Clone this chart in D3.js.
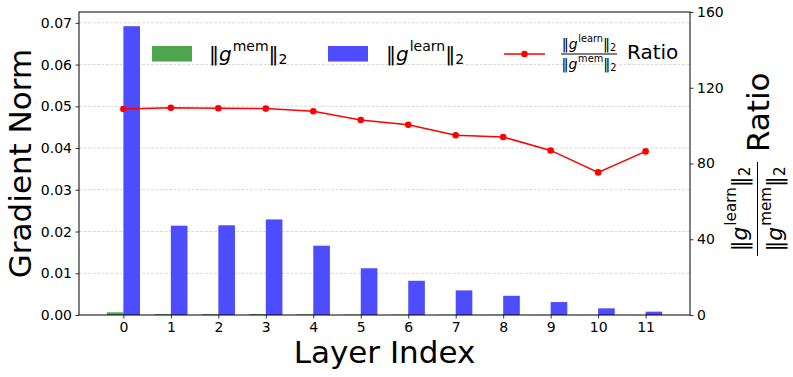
<!DOCTYPE html>
<html>
<head>
<meta charset="utf-8">
<script src="https://cdn.jsdelivr.net/npm/d3@7"></script>
<style>
  body { margin: 0; background: #fff; }
  svg text { font-family: "DejaVu Sans", sans-serif; fill: #000; }
</style>
</head>
<body>
<div id="vis"></div>
<script>
// values
var layers = [0, 1, 2, 3, 4, 5, 6, 7, 8, 9, 10, 11];
var memNorm = [0.00064, 0.000196, 0.000197, 0.00021, 0.000155, 0.000109, 0.000081, 0.000062, 0.000049, 0.000036, 0.000021, 0.0000095];
var learnNorm = [0.0692, 0.0214, 0.0215, 0.0229, 0.0166, 0.0112, 0.0082, 0.0059, 0.0046, 0.0031, 0.0016, 0.0008];
var ratio = [108.8, 109.4, 109.2, 109.0, 107.6, 103.0, 100.5, 94.9, 94.0, 86.9, 75.3, 86.4];
var leftTicks = [0, 0.01, 0.02, 0.03, 0.04, 0.05, 0.06, 0.07];
var rightTicks = [0, 40, 80, 120, 160];

var width = 793, height = 377;
var plot = {left: 79, right: 690, top: 12, bottom: 315};
var barW = 0.35;

var svg = d3.select("#vis").append("svg")
  .attr("width", width)
  .attr("height", height);

var x = d3.scaleLinear()
  .domain([-0.935, 11.935])
  .range([plot.left, plot.right]);

var y = d3.scaleLinear()
  .domain([0, 0.0726])
  .range([plot.bottom, plot.top]);

var y2 = d3.scaleLinear()
  .domain([0, 160])
  .range([plot.bottom, plot.top]);

// grid (behind the bars)
svg.append("g")
  .selectAll("line")
  .data(leftTicks.slice(1))
  .join("line")
    .attr("x1", plot.left).attr("x2", plot.right)
    .attr("y1", function(d){ return y(d); })
    .attr("y2", function(d){ return y(d); })
    .attr("stroke", "#cfcfcf")
    .attr("stroke-width", 0.8)
    .attr("stroke-dasharray", "3,1.5");

// bars
svg.append("g").selectAll("rect")
  .data(layers)
  .join("rect")
    .attr("x", function(i){ return x(i - barW); })
    .attr("width", function(i){ return x(barW) - x(0); })
    .attr("y", function(i){ return y(memNorm[i]); })
    .attr("height", function(i){ return y(0) - y(memNorm[i]); })
    .attr("fill", "#4da64d");

svg.append("g").selectAll("rect")
  .data(layers)
  .join("rect")
    .attr("x", function(i){ return x(i); })
    .attr("width", function(i){ return x(barW) - x(0); })
    .attr("y", function(i){ return y(learnNorm[i]); })
    .attr("height", function(i){ return y(0) - y(learnNorm[i]); })
    .attr("fill", "#4d4dff");

// ratio line
var line = d3.line()
  .x(function(i){ return x(i); })
  .y(function(i){ return y2(ratio[i]); });

svg.append("path")
  .datum(layers)
  .attr("d", line)
  .attr("fill", "none")
  .attr("stroke", "#ff0000")
  .attr("stroke-width", 1.5);

svg.append("g").selectAll("circle")
  .data(layers)
  .join("circle")
    .attr("cx", function(i){ return x(i); })
    .attr("cy", function(i){ return y2(ratio[i]); })
    .attr("r", 3.3)
    .attr("fill", "#ff0000");

// axes
var xAxis = d3.axisBottom(x).tickValues(layers).tickSize(3.5).tickPadding(3.5).tickFormat(d3.format("d"));
var yAxis = d3.axisLeft(y).tickValues(leftTicks).tickSize(3.5).tickPadding(3.5).tickFormat(d3.format(".2f"));
var y2Axis = d3.axisRight(y2).tickValues(rightTicks).tickSize(3.5).tickPadding(3.5).tickFormat(d3.format("d"));

function styleAxis(g) {
  g.select(".domain").remove();
  g.selectAll("line").attr("stroke", "#000").attr("stroke-width", 0.8);
  g.selectAll("text").attr("font-size", 14).attr("font-family", "DejaVu Sans");
}

svg.append("g").attr("transform", "translate(0," + plot.bottom + ")").call(xAxis).call(styleAxis);
svg.append("g").attr("transform", "translate(" + plot.left + ",0)").call(yAxis).call(styleAxis);
svg.append("g").attr("transform", "translate(" + plot.right + ",0)").call(y2Axis).call(styleAxis);

// frame
svg.append("rect")
  .attr("x", plot.left).attr("y", plot.top)
  .attr("width", plot.right - plot.left)
  .attr("height", plot.bottom - plot.top)
  .attr("fill", "none")
  .attr("stroke", "#000")
  .attr("stroke-width", 1);

// ||g^sup||_2 written with tspans
function normText(sel, sup, size) {
  sel.attr("font-size", size);
  sel.append("tspan").text("\u2016");
  sel.append("tspan").attr("font-style", "italic").text("g");
  sel.append("tspan").attr("font-size", size * 0.7).attr("dy", -0.5 * size).attr("dx", 0.05 * size).text(sup);
  sel.append("tspan").attr("dy", 0.5 * size).text("\u2016");
  sel.append("tspan").attr("font-size", size * 0.7).attr("dy", 0.15 * size).text("2");
}

// fraction: bar at y=0, numerator above, denominator below
function ratioFrac(g, size, cx, halfW, numBase, denBase) {
  normText(g.append("text").attr("x", cx).attr("y", numBase).attr("text-anchor", "middle"), "learn", size);
  normText(g.append("text").attr("x", cx).attr("y", denBase).attr("text-anchor", "middle"), "mem", size);
  g.append("line")
    .attr("x1", cx - halfW).attr("x2", cx + halfW)
    .attr("y1", 0).attr("y2", 0)
    .attr("stroke", "#000").attr("stroke-width", 1);
}

// axis labels
svg.append("text")
  .attr("transform", "translate(31," + ((plot.top + plot.bottom) / 2) + ") rotate(-90)")
  .attr("text-anchor", "middle")
  .attr("font-size", 31)
  .text("Gradient Norm");

svg.append("text")
  .attr("x", (plot.left + plot.right) / 2)
  .attr("y", 363)
  .attr("text-anchor", "middle")
  .attr("font-size", 31)
  .text("Layer Index");

var rlab = svg.append("g")
  .attr("transform", "translate(757.5,164) rotate(-90)");
ratioFrac(rlab, 21.7, -45, 47, -11, 24);
rlab.append("text")
  .attr("x", 12).attr("y", 11)
  .attr("font-size", 31)
  .text("Ratio");

// legend (no frame)
var legend = svg.append("g");
legend.append("rect").attr("x", 152).attr("y", 46).attr("width", 40).attr("height", 15.5).attr("fill", "#4da64d");
normText(legend.append("text").attr("x", 209).attr("y", 61), "mem", 20);

legend.append("rect").attr("x", 328).attr("y", 46).attr("width", 40).attr("height", 15.5).attr("fill", "#4d4dff");
normText(legend.append("text").attr("x", 386).attr("y", 61), "learn", 20);

legend.append("line").attr("x1", 504).attr("x2", 545).attr("y1", 54).attr("y2", 54)
  .attr("stroke", "#ff0000").attr("stroke-width", 1.5);
legend.append("circle").attr("cx", 524.5).attr("cy", 54).attr("r", 3.3).attr("fill", "#ff0000");

var lfrac = legend.append("g").attr("transform", "translate(0,54)");
ratioFrac(lfrac, 14, 589, 28, -5, 15);
legend.append("text").attr("x", 627).attr("y", 58.7).attr("font-size", 20).text("Ratio");
</script>
</body>
</html>
